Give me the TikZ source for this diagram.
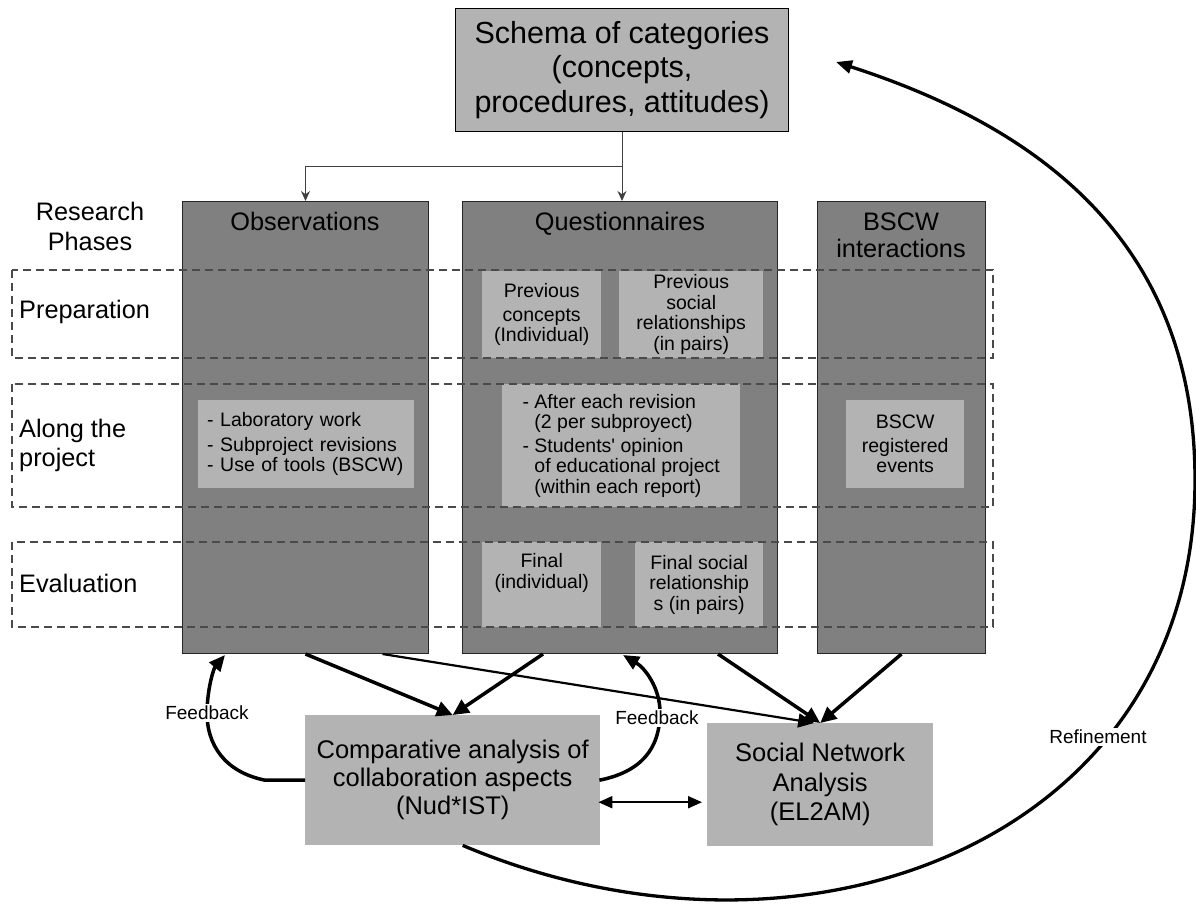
\documentclass[tikz,border=0pt]{standalone}
\usepackage{fontspec}
\setmainfont{Liberation Sans}
\usetikzlibrary{arrows.meta,calc}
\definecolor{colgray}{HTML}{808080}
\definecolor{boxgray}{HTML}{B3B3B3}
\definecolor{dashgray}{HTML}{4A4A4A}
\newcommand\fTop{\fontsize{30.5}{34.5}\selectfont}
\newcommand\fMid{\fontsize{25.3}{29}\selectfont}
\newcommand\fSml{\fontsize{19.5}{20.5}\selectfont}
\newcommand\fLbl{\fontsize{19}{20}\selectfont}
\begin{document}
\begin{tikzpicture}[x=1pt,y=-1pt,
  column/.style={draw=black!85, line width=1pt, fill=colgray, anchor=north west, inner sep=0pt},
  inbox/.style={fill=boxgray, anchor=north west, inner sep=0pt, align=center, font=\fSml},
  bigbox/.style={fill=boxgray, anchor=north west, inner sep=0pt, align=center, font=\fMid},
  band/.style={draw=dashgray, line width=1.1pt, dash pattern=on 8pt off 5pt},
  hdr/.style={font=\fMid, align=center, inner sep=0pt},
  thinarr/.style={draw=black!75, line width=1pt, -{Stealth[length=10pt,width=9pt]}},
  bigarr/.style={line width=3.5pt, -{Triangle[length=16pt,width=15pt]}},
  medarr/.style={line width=2.2pt, -{Triangle[length=16pt,width=14pt]}},
  fbarr/.style={line width=3.5pt, -{Triangle[length=16pt,width=14pt]}},
  refarr/.style={line width=3.3pt, -{Triangle[length=16pt,width=13pt]}},
  dblarr/.style={line width=2pt, {Triangle[length=14pt,width=12pt]}-{Triangle[length=14pt,width=12pt]}},
  lbl/.style={font=\fLbl, fill=white, inner sep=2pt}
]
\useasboundingbox (0,0) rectangle (1196,909);

% columns
\node[column, minimum width=246, minimum height=452] (obs) at (182,201) {};
\node[column, minimum width=315, minimum height=452] (q) at (462,201) {};
\node[column, minimum width=168, minimum height=452] (bscw) at (817,201) {};

% inner boxes
\node[inbox, minimum width=216, minimum height=88, text width=198, inner xsep=9pt, align=left] (obsin) at (198,400)
  {- Laboratory work\\[4pt]- Subproject revisions\\- Use of tools (BSCW)};
\node[inbox, minimum width=119, minimum height=87] (pc) at (482,271)
  {Previous\\[3pt]concepts\\(Individual)};
\node[inbox, minimum width=144, minimum height=87] (ps) at (619,271)
  {Previous\\social\\relationships\\(in pairs)};
\node[inbox, minimum width=238, minimum height=123, align=left] (after) at (502,384)
  {- After each revision\\\hphantom{- }(2 per subproyect)\\[3pt]- Students\textquotesingle{} opinion\\\hphantom{- }of educational project\\\hphantom{- }(within each report)};
\node[inbox, minimum width=118, minimum height=88] (reg) at (846,400)
  {BSCW\\[3pt]registered\\events};
\node[inbox, minimum width=119, minimum height=85] (fin) at (482,542) {};
\node[font=\fSml, align=center, inner sep=0pt] (fintxt) at ($(fin.north)+(0,31)$) {Final\\(individual)};
\node[inbox, minimum width=128, minimum height=85] (fs) at (635,542)
  {Final social\\relationship\\s (in pairs)};

% dashed phase bands
\draw[band] (12,270) rectangle (993,358);
\draw[band] (12,384) rectangle (993,507);
\draw[band] (12,542) rectangle (993,627);

% column headers
\node[hdr, anchor=base] (obsh) at (305,231) {Observations};
\node[hdr, anchor=base] (qh) at (620,231) {Questionnaires};
\node[hdr, font=\fontsize{25.3}{27}\selectfont] (bh) at (901,235) {BSCW\\interactions};

% phase labels
\node[hdr, font=\fontsize{25.3}{30}\selectfont] (rp) at (90,226) {Research\\Phases};
\node[hdr, anchor=west] (prep) at (19,312) {Preparation};
\node[hdr, anchor=west, align=left] (along) at (19,445) {Along the\\project};
\node[hdr, anchor=west] (eval) at (19,583) {Evaluation};

% top box
\node[draw=black, line width=1pt, fill=boxgray, anchor=north west, inner sep=0pt, align=center,
      minimum width=333, minimum height=123, font=\fTop] (top) at (455,8)
  {Schema of categories\\(concepts,\\procedures, attitudes)};

% bottom boxes
\node[bigbox, minimum width=295, minimum height=130, font=\fontsize{25.5}{28}\selectfont] (cmp) at (305,715)
  {Comparative analysis of\\collaboration aspects\\(Nud*IST)};
\node[bigbox, minimum width=226, minimum height=123, font=\fontsize{25.5}{29.5}\selectfont] (sna) at (707,723)
  {Social Network\\Analysis\\(EL2AM)};

% top connectors
\coordinate (split) at ($(top.south)+(0,35)$);
\draw[thinarr] (top.south) -- (top.south |- q.north);
\draw[thinarr] (split) -| (obs.north);

% column -> analysis arrows
\draw[bigarr] (obs.south) -- (cmp.north);
\draw[bigarr] ($(q.south)+(-77,0)$) -- (cmp.north);
\draw[medarr] ($(obs.south)+(77,0)$) -- ($(sna.north)+(-6,0)$);
\draw[bigarr] ($(q.south)+(98,0)$) -- (sna.north);
\draw[bigarr] (bscw.south) -- (sna.north);

% double arrow
\coordinate (da) at ($(cmp.east)+(-2,22)$);
\draw[dblarr, shorten >=5pt] (da) -- (da -| sna.west);

% feedback loops
\draw[fbarr] (cmp.west) -- ++(-40,0) .. controls (225,772) and (206,745) .. (207,710)
  .. controls (208,685) and (214,668) .. ($(obs.south west)+(43,1)$);
\draw[fbarr] ($(cmp.east)+(-1,0)$) .. controls (640,772) and (660,750) .. (660,712)
  .. controls (660,688) and (645,668) .. ($(q.south)+(3,1)$);
\node[lbl] (fbl) at (207,713) {Feedback};
\node[lbl] (fbr) at (657,718) {Feedback};

% refinement
\coordinate (reftip) at (836,62);
\draw[refarr] ($(cmp.south)+(10,0)$) .. controls (805,990) and (1195,840) .. (1195,480)
  .. controls (1195,250) and (1050,131) .. (reftip);
\node[lbl] (refl) at (1098,737) {Refinement};
\end{tikzpicture}
\end{document}
